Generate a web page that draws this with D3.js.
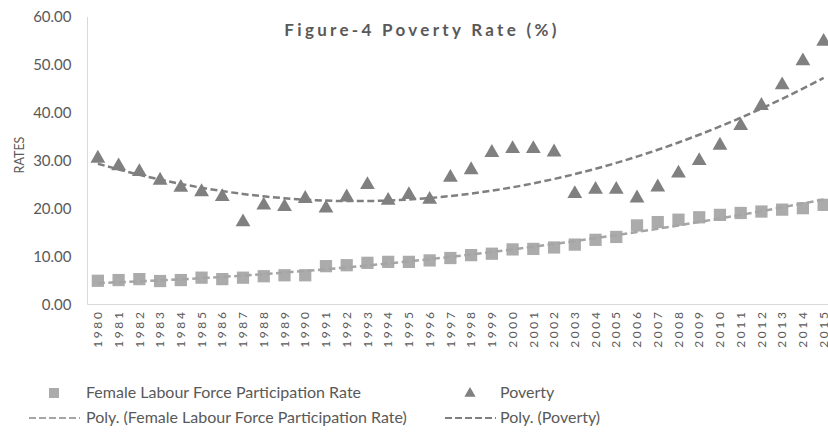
<!DOCTYPE html>
<html><head><meta charset="utf-8">
<script src="https://cdn.jsdelivr.net/npm/d3@7/dist/d3.min.js"></script>
<style>body{margin:0;background:#fff;} svg{display:block;font-family:Lato,"Open Sans",sans-serif;}</style>
</head><body><svg id="c" width="828" height="433"></svg>
<script>
const years = d3.range(1980, 2016).map(String);
const female = [4.95,5.1,5.3,4.9,5.1,5.6,5.3,5.6,5.9,6.1,6.1,8.0,8.2,8.7,8.9,8.9,9.2,9.7,10.3,10.6,11.5,11.6,11.9,12.5,13.5,14.1,16.5,17.2,17.7,18.2,18.7,19.1,19.4,19.8,20.1,20.8];
const poverty = [30.5,28.9,27.7,25.9,24.4,23.5,22.5,17.2,20.7,20.4,22.1,20.1,22.4,25.0,21.7,22.9,21.9,26.5,28.1,31.7,32.5,32.5,31.8,23.1,24.0,24.0,22.2,24.5,27.4,30.0,33.2,37.3,41.5,45.8,50.8,54.9];
const yTicks = [0,10,20,30,40,50,60];

function polyfit(ys, order){
  const n = ys.length, m = order+1;
  const A = Array.from({length:m},()=>Array(m+1).fill(0));
  for(let i=0;i<n;i++){const x=i+1;
    for(let r=0;r<m;r++){for(let c=0;c<m;c++)A[r][c]+=Math.pow(x,r+c);A[r][m]+=ys[i]*Math.pow(x,r);}}
  for(let p=0;p<m;p++){let mx=p;for(let r=p+1;r<m;r++)if(Math.abs(A[r][p])>Math.abs(A[mx][p]))mx=r;[A[p],A[mx]]=[A[mx],A[p]];
    for(let r=0;r<m;r++){if(r===p)continue;const f=A[r][p]/A[p][p];for(let c=p;c<=m;c++)A[r][c]-=f*A[p][c];}}
  const co=A.map((row,i)=>row[m]/row[i]);
  return x=>co.reduce((s,c,i)=>s+c*Math.pow(x,i),0);
}

const svg = d3.select("#c");
const L=87.5, R=834, T=17, B=304.5;
const x = d3.scaleBand().domain(years).range([L,R]);
const y = d3.scaleLinear().domain([0,60]).range([B,T]);
const txt="#595959";

svg.append("text").attr("x",422).attr("y",36).attr("text-anchor","middle").attr("font-size",17).attr("font-weight","bold").attr("letter-spacing","3.3px").attr("fill",txt).text("Figure-4 Poverty Rate (%)");

// axes lines
svg.append("line").attr("x1",L).attr("x2",R).attr("y1",B).attr("y2",B).attr("stroke","#d9d9d9").attr("stroke-width",1);
svg.append("line").attr("x1",L).attr("x2",L).attr("y1",T).attr("y2",B).attr("stroke","#d9d9d9").attr("stroke-width",1);

const ya = svg.append("g").attr("transform",`translate(${L},0)`).call(d3.axisLeft(y).tickValues(yTicks).tickFormat(d3.format(".2f")).tickSize(0).tickPadding(16));
ya.select(".domain").remove();
ya.selectAll("text").attr("fill",txt).attr("font-size",15).attr("font-family","Lato,sans-serif");

svg.append("text").attr("transform","translate(24,155) rotate(-90)").attr("text-anchor","middle").attr("font-size",12.5).attr("fill",txt).text("RATES");

const xa = svg.append("g").attr("transform",`translate(0,${B})`).call(d3.axisBottom(x).tickSize(0));
xa.select(".domain").remove();
xa.selectAll("text").attr("fill",txt).attr("font-size",12).attr("font-family","Lato,sans-serif").attr("letter-spacing","2.6px")
  .attr("transform","rotate(-90)").attr("text-anchor","end").attr("dx","-5").attr("dy","0.35em").attr("y",0).attr("x",0);

const fF = polyfit(female,2), fP = polyfit(poverty,2);
const line = d3.line().x((d,i)=>x(years[i])+x.bandwidth()/2).y(d=>y(d)).curve(d3.curveMonotoneX);
const tf = years.map((d,i)=>fF(i+1)), tp = years.map((d,i)=>fP(i+1));

const sqCol="#ababab", triCol="#808080";
svg.append("g").selectAll("path").data(female).join("path")
  .attr("transform",(d,i)=>`translate(${x(years[i])+x.bandwidth()/2},${y(d)})`)
  .attr("d",d3.symbol(d3.symbolSquare,150)).attr("fill",sqCol);
svg.append("path").datum(tf).attr("d",line).attr("fill","none").attr("stroke","#a5a5a5").attr("stroke-width",2.5).attr("stroke-dasharray","7,3.5");

svg.append("g").selectAll("path").data(poverty).join("path")
  .attr("transform",(d,i)=>`translate(${x(years[i])+x.bandwidth()/2},${y(d)})`)
  .attr("d",d3.symbol(d3.symbolTriangle,95)).attr("fill",triCol);
svg.append("path").datum(tp).attr("d",line).attr("fill","none").attr("stroke","#7f7f7f").attr("stroke-width",2.5).attr("stroke-dasharray","7,3.5");

// legend
const lg = svg.append("g").attr("font-size",16).attr("fill",txt);
lg.append("rect").attr("x",49).attr("y",388).attr("width",10).attr("height",10).attr("fill",sqCol);
lg.append("text").attr("x",86).attr("y",398).attr("fill",txt).text("Female Labour Force Participation Rate");
lg.append("path").attr("transform","translate(470,393.5)").attr("d",d3.symbol(d3.symbolTriangle,55)).attr("fill",triCol);
lg.append("text").attr("x",500).attr("y",398).attr("fill",txt).text("Poverty");
lg.append("line").attr("x1",29).attr("x2",80).attr("y1",418).attr("y2",418).attr("stroke","#a5a5a5").attr("stroke-width",2).attr("stroke-dasharray","7,3");
lg.append("text").attr("x",86).attr("y",423).attr("fill",txt).text("Poly. (Female Labour Force Participation Rate)");
lg.append("line").attr("x1",445).attr("x2",496).attr("y1",418).attr("y2",418).attr("stroke","#7f7f7f").attr("stroke-width",2).attr("stroke-dasharray","7,3");
lg.append("text").attr("x",500).attr("y",423).attr("fill",txt).text("Poly. (Poverty)");
</script></body></html>
